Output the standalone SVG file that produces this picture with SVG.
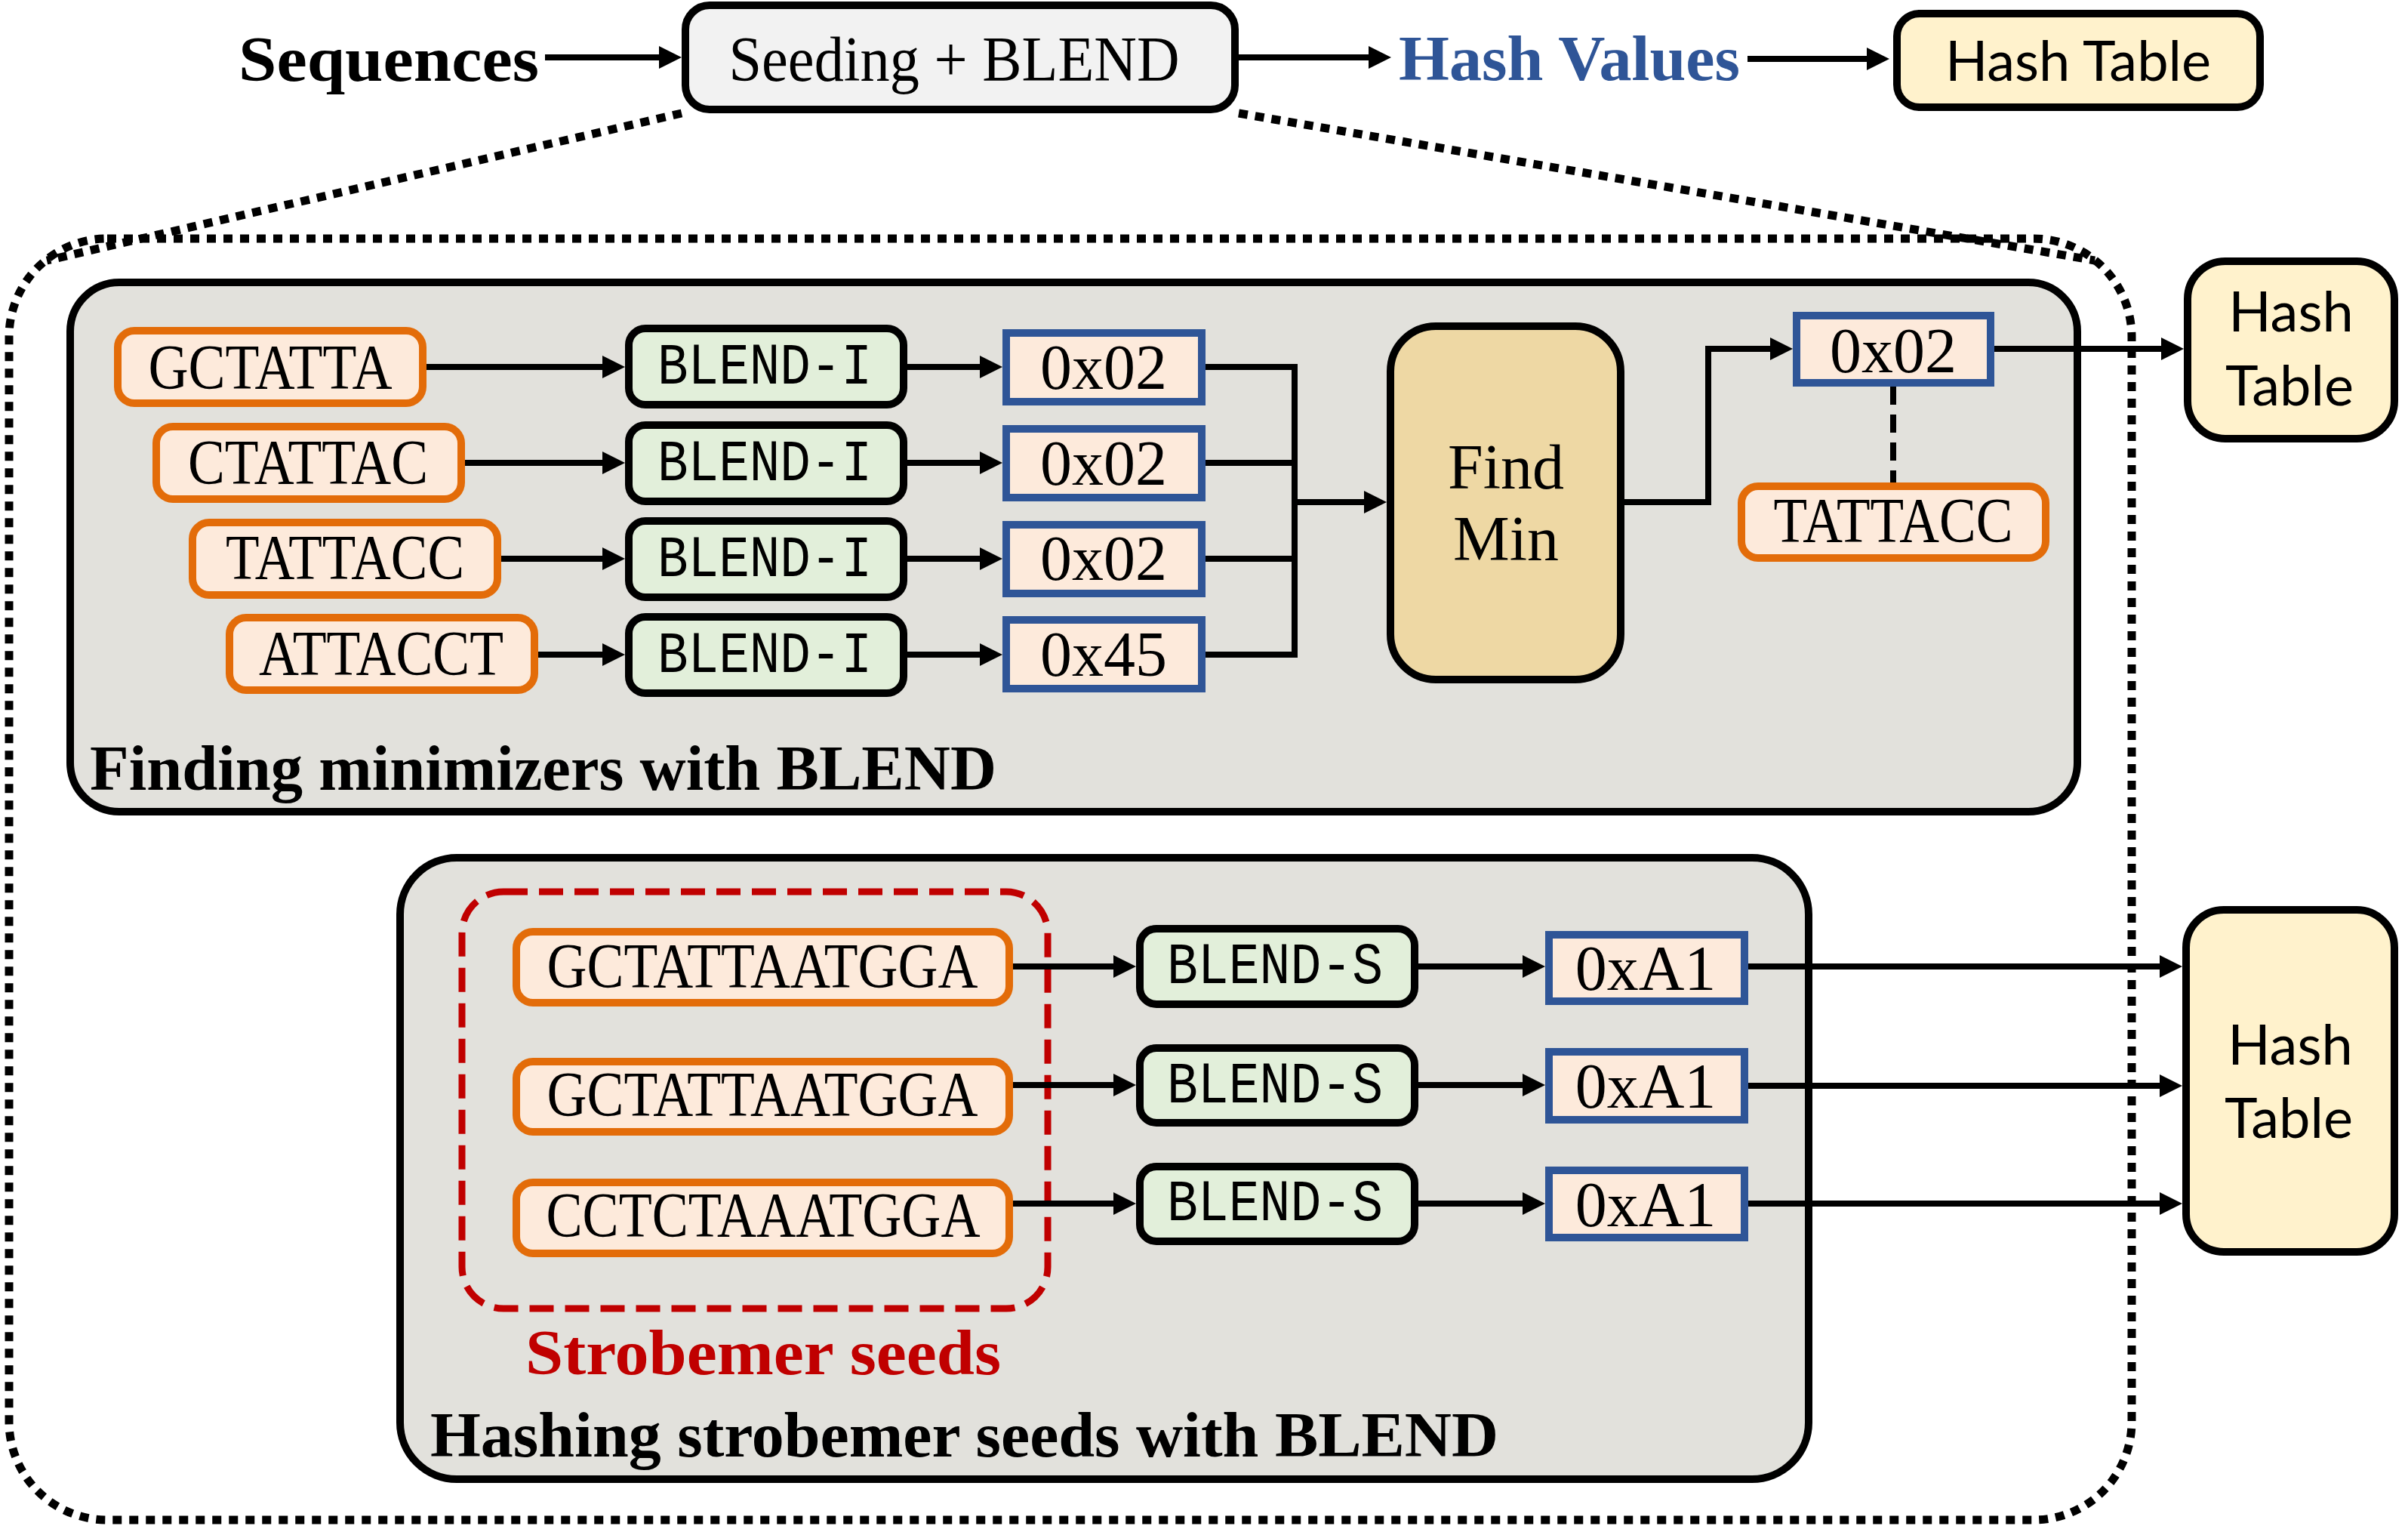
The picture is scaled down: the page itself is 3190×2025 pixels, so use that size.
<svg xmlns="http://www.w3.org/2000/svg" width="3190" height="2025" viewBox="0 0 3190 2025">
<style>
.serif{font-family:"Liberation Serif","DejaVu Serif",serif;font-size:84px;fill:#000}
.bold{font-family:"Liberation Serif","DejaVu Serif",serif;font-weight:bold;font-size:84px}
.mono{font-family:"Liberation Mono","DejaVu Sans Mono",monospace;font-size:78px;fill:#000}
.sans{font-family:Lato,"Liberation Sans",sans-serif;font-size:74px;fill:#000}
.mid{text-anchor:middle}
.seq{fill:#fdeadb;stroke:#e36c09;stroke-width:10}
.blend{fill:#e2efda;stroke:#000;stroke-width:10}
.hv{fill:#fdeadb;stroke:#2f5597;stroke-width:10}
.ht{fill:#fff2cc;stroke:#000;stroke-width:10}
.inner{fill:#e2e1dc;stroke:#000;stroke-width:10}
.dotted{fill:none;stroke:#000;stroke-width:11;stroke-dasharray:12 10}
.conn{fill:none;stroke:#000;stroke-width:8}
.arr{marker-end:url(#ah)}
</style>
<defs>
<marker id="ah" markerUnits="userSpaceOnUse" markerWidth="30" markerHeight="30" refX="10" refY="15" orient="auto">
<path d="M0,0 L30,15 L0,30 z" fill="#000"/>
</marker>
</defs>
<rect width="3190" height="2025" fill="#fff"/>

<g id="zoom-frame">
<rect x="12" y="316" width="2812" height="1697" rx="130" fill="#f2f2f2" class="dotted"/>
<path class="dotted" d="M903,150 L62,345"/>
<path class="dotted" d="M1641,150 L2775,345"/>
</g>

<g id="top-sequences"><text class="bold" x="316" y="107" font-size="88" textLength="398" lengthAdjust="spacingAndGlyphs">Sequences</text></g>
<g id="top-seeding">
<rect x="908" y="7" width="728" height="138" rx="32" fill="#f2f2f2" stroke="#000" stroke-width="10"/>
<text class="serif mid" x="1264" y="107" font-size="86" textLength="597" lengthAdjust="spacingAndGlyphs">Seeding + BLEND</text>
</g>
<g id="top-hashvalues"><text class="bold" x="1853" y="106" font-size="86" fill="#2f5597" textLength="452" lengthAdjust="spacingAndGlyphs">Hash Values</text></g>
<g id="top-hashtable">
<rect class="ht" x="2513" y="18" width="481" height="124" rx="30"/>
<text class="sans mid" x="2753" y="107" font-size="75">Hash Table</text>
</g>

<g id="minimizer-panel">
<rect class="inner" x="93" y="374" width="2659" height="701" rx="65"/>
<text class="bold" x="119" y="1046" font-size="86" textLength="1201" lengthAdjust="spacingAndGlyphs">Finding minimizers with BLEND</text>
</g>

<g id="kmer1"><rect class="seq" x="156" y="438" width="404" height="96" rx="22"/><text class="serif mid" x="358" y="515" textLength="323" lengthAdjust="spacingAndGlyphs">GCTATTA</text></g>
<g id="kmer2"><rect class="seq" x="207" y="565" width="404" height="96" rx="22"/><text class="serif mid" x="408" y="641" textLength="318" lengthAdjust="spacingAndGlyphs">CTATTAC</text></g>
<g id="kmer3"><rect class="seq" x="255" y="692" width="404" height="96" rx="22"/><text class="serif mid" x="457" y="767" textLength="316" lengthAdjust="spacingAndGlyphs">TATTACC</text></g>
<g id="kmer4"><rect class="seq" x="304" y="818" width="404" height="96" rx="22"/><text class="serif mid" x="505" y="894" textLength="324" lengthAdjust="spacingAndGlyphs">ATTACCT</text></g>

<g id="blendi1"><rect class="blend" x="833" y="435" width="364" height="101" rx="22"/><text class="mono mid" x="1013" y="508" textLength="284" lengthAdjust="spacingAndGlyphs">BLEND-I</text></g>
<g id="blendi2"><rect class="blend" x="833" y="563" width="364" height="101" rx="22"/><text class="mono mid" x="1013" y="636" textLength="284" lengthAdjust="spacingAndGlyphs">BLEND-I</text></g>
<g id="blendi3"><rect class="blend" x="833" y="690" width="364" height="101" rx="22"/><text class="mono mid" x="1013" y="763" textLength="284" lengthAdjust="spacingAndGlyphs">BLEND-I</text></g>
<g id="blendi4"><rect class="blend" x="833" y="817" width="364" height="101" rx="22"/><text class="mono mid" x="1013" y="890" textLength="284" lengthAdjust="spacingAndGlyphs">BLEND-I</text></g>

<g id="hash1"><rect class="hv" x="1333" y="441" width="259" height="91"/><text class="serif mid" x="1462" y="515">0x02</text></g>
<g id="hash2"><rect class="hv" x="1333" y="568" width="259" height="91"/><text class="serif mid" x="1462" y="642">0x02</text></g>
<g id="hash3"><rect class="hv" x="1333" y="695" width="259" height="91"/><text class="serif mid" x="1462" y="768">0x02</text></g>
<g id="hash4"><rect class="hv" x="1333" y="821" width="259" height="91"/><text class="serif mid" x="1462" y="895">0x45</text></g>

<g id="findmin">
<rect x="1842" y="432" width="305" height="468" rx="60" fill="#eed8a4" stroke="#000" stroke-width="10"/>
<text class="serif mid" x="1995" y="647">Find</text>
<text class="serif mid" x="1995" y="742">Min</text>
</g>
<g id="minhash"><rect class="hv" x="2380" y="418" width="257" height="89"/><text class="serif mid" x="2508" y="493">0x02</text></g>
<g id="minkmer"><rect class="seq" x="2307" y="644" width="403" height="95" rx="22"/><text class="serif mid" x="2508" y="718" textLength="317" lengthAdjust="spacingAndGlyphs">TATTACC</text></g>
<g id="hashtable1">
<rect class="ht" x="2898" y="346" width="274" height="235" rx="50"/>
<text class="sans mid" x="3035" y="439" font-size="72">Hash</text>
<text class="sans mid" x="3033" y="537" font-size="72">Table</text>
</g>

<g id="strobemer-panel">
<rect class="inner" x="530" y="1136" width="1866" height="823" rx="75"/>
<rect x="612" y="1181" width="776" height="552" rx="55" fill="none" stroke="#c00000" stroke-width="9" stroke-dasharray="32 15"/>
<text class="bold mid" x="1011" y="1820" font-size="86" fill="#c00000" textLength="630" lengthAdjust="spacingAndGlyphs">Strobemer seeds</text>
<text class="bold" x="570" y="1929" font-size="86" textLength="1415" lengthAdjust="spacingAndGlyphs">Hashing strobemer seeds with BLEND</text>
</g>

<g id="strobe1"><rect class="seq" x="684" y="1234" width="653" height="94" rx="22"/><text class="serif mid" x="1010" y="1308" textLength="571" lengthAdjust="spacingAndGlyphs">GCTATTAATGGA</text></g>
<g id="strobe2"><rect class="seq" x="684" y="1406" width="653" height="93" rx="22"/><text class="serif mid" x="1010" y="1478" textLength="571" lengthAdjust="spacingAndGlyphs">GCTATTAATGGA</text></g>
<g id="strobe3"><rect class="seq" x="684" y="1566" width="653" height="94" rx="22"/><text class="serif mid" x="1011" y="1638" textLength="575" lengthAdjust="spacingAndGlyphs">CCTCTAAATGGA</text></g>

<g id="blends1"><rect class="blend" x="1510" y="1230" width="364" height="100" rx="22"/><text class="mono mid" x="1689" y="1302" textLength="286" lengthAdjust="spacingAndGlyphs">BLEND-S</text></g>
<g id="blends2"><rect class="blend" x="1510" y="1388" width="364" height="99" rx="22"/><text class="mono mid" x="1689" y="1460" textLength="286" lengthAdjust="spacingAndGlyphs">BLEND-S</text></g>
<g id="blends3"><rect class="blend" x="1510" y="1545" width="364" height="99" rx="22"/><text class="mono mid" x="1689" y="1616" textLength="286" lengthAdjust="spacingAndGlyphs">BLEND-S</text></g>

<g id="shash1"><rect class="hv" x="2052" y="1238" width="259" height="88"/><text class="serif mid" x="2180" y="1311">0xA1</text></g>
<g id="shash2"><rect class="hv" x="2052" y="1393" width="259" height="90"/><text class="serif mid" x="2180" y="1467">0xA1</text></g>
<g id="shash3"><rect class="hv" x="2052" y="1550" width="259" height="89"/><text class="serif mid" x="2180" y="1624">0xA1</text></g>

<g id="hashtable2">
<rect class="ht" x="2896" y="1205" width="276" height="453" rx="50"/>
<text class="sans mid" x="3034" y="1410" font-size="72">Hash</text>
<text class="sans mid" x="3032" y="1507" font-size="72">Table</text>
</g>

<g id="connectors">
<path class="conn arr" stroke-width="10" d="M722,76 H883"/>
<path class="conn arr" stroke-width="10" d="M1641,76 H1823"/>
<path class="conn arr" stroke-width="10" d="M2315,78 H2483"/>

<path class="conn arr" d="M565,486 H808"/>
<path class="conn arr" d="M616,613 H808"/>
<path class="conn arr" d="M664,740 H808"/>
<path class="conn arr" d="M713,867 H808"/>
<path class="conn arr" d="M1202,486 H1308"/>
<path class="conn arr" d="M1202,613 H1308"/>
<path class="conn arr" d="M1202,740 H1308"/>
<path class="conn arr" d="M1202,867 H1308"/>
<path class="conn" d="M1597,486 H1715 V867 H1597 M1597,613 H1715 M1597,740 H1715"/>
<path class="conn arr" d="M1715,665 H1817"/>
<path class="conn arr" d="M2152,665 H2263 V462 H2355"/>
<path class="conn" d="M2508,512 V639" stroke-dasharray="24 13"/>
<path class="conn arr" d="M2642,462 H2873"/>

<path class="conn arr" d="M1342,1280 H1485"/>
<path class="conn arr" d="M1342,1437 H1485"/>
<path class="conn arr" d="M1342,1594 H1485"/>
<path class="conn arr" d="M1879,1280 H2027"/>
<path class="conn arr" d="M1879,1437 H2027"/>
<path class="conn arr" d="M1879,1594 H2027"/>
<path class="conn arr" d="M2316,1280 H2871"/>
<path class="conn arr" d="M2316,1438 H2871"/>
<path class="conn arr" d="M2316,1594 H2871"/>
</g>
</svg>
